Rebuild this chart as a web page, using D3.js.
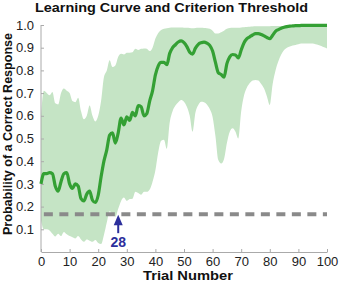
<!DOCTYPE html>
<html>
<head>
<meta charset="utf-8">
<script src="https://cdn.jsdelivr.net/npm/d3@7"></script>
<style>
  html, body { margin: 0; padding: 0; background: #fff; }
  svg { display: block; font-family: "Liberation Sans", Arial, sans-serif; }
</style>
</head>
<body>
<svg id="chart" width="340" height="283"></svg>
<script>
// ---- data ----
const title = "Learning Curve and Criterion Threshold";
const xLabel = "Trial Number";
const yLabel = "Probability of a Correct Response";
const xTicks = [0, 10, 20, 30, 40, 50, 60, 70, 80, 90, 100];
const yTicks = [0.1, 0.2, 0.3, 0.4, 0.5, 0.6, 0.7, 0.8, 0.9, 1.0];
const trials = d3.range(0, 101);
const median = [
  0.30, 0.345, 0.345, 0.35, 0.345, 0.29, 0.268, 0.31, 0.345, 0.35,
  0.30, 0.28, 0.30, 0.29, 0.235, 0.225, 0.255, 0.268, 0.228, 0.218,
  0.25, 0.33, 0.40, 0.45, 0.515, 0.525, 0.48, 0.525, 0.59, 0.56,
  0.595, 0.58, 0.615, 0.60, 0.645, 0.64, 0.60, 0.61, 0.665, 0.71,
  0.78, 0.82, 0.835, 0.835, 0.825, 0.875, 0.90, 0.913, 0.925, 0.93,
  0.922, 0.905, 0.88, 0.872, 0.898, 0.915, 0.922, 0.925, 0.92, 0.91,
  0.885, 0.835, 0.79, 0.782, 0.77, 0.83, 0.86, 0.87, 0.868, 0.855,
  0.89, 0.922, 0.94, 0.948, 0.956, 0.962, 0.962, 0.958, 0.952, 0.945,
  0.94, 0.955, 0.972, 0.98, 0.986, 0.99, 0.993, 0.995, 0.996, 0.997,
  0.997, 0.998, 0.998, 0.998, 0.998, 0.998, 0.998, 0.998, 0.998, 0.998,
  0.998
];
const upper = [
  0.60, 0.71, 0.70, 0.69, 0.705, 0.655, 0.65, 0.70, 0.72, 0.71,
  0.70, 0.665, 0.66, 0.68, 0.62, 0.585, 0.60, 0.645, 0.60, 0.575,
  0.60, 0.665, 0.77, 0.80, 0.845, 0.815, 0.822, 0.86, 0.873, 0.87,
  0.878, 0.878, 0.88, 0.895, 0.89, 0.895, 0.897, 0.895, 0.885, 0.90,
  0.94, 0.965, 0.978, 0.983, 0.986, 0.988, 0.989, 0.989, 0.989, 0.989,
  0.988, 0.988, 0.987, 0.986, 0.987, 0.988, 0.988, 0.987, 0.986, 0.984,
  0.975, 0.963, 0.963, 0.968, 0.975, 0.983, 0.987, 0.988, 0.988, 0.988,
  0.989, 0.99, 0.991, 0.992, 0.993, 0.994, 0.995, 0.995, 0.995, 0.995,
  0.995, 0.996, 0.996, 0.996, 0.996, 0.996, 0.996, 0.997, 0.997, 0.997,
  0.997, 0.997, 0.997, 0.997, 0.997, 0.997, 0.997, 0.997, 0.997, 0.997,
  0.997
];
const lower = [
  0.14, 0.10, 0.10, 0.095, 0.08, 0.068, 0.08, 0.07, 0.088, 0.078,
  0.07, 0.065, 0.06, 0.07, 0.055, 0.045, 0.055, 0.05, 0.045, 0.053,
  0.04, 0.035, 0.075, 0.13, 0.18, 0.168, 0.155, 0.19, 0.225, 0.24,
  0.225, 0.233, 0.235, 0.265, 0.26, 0.252, 0.265, 0.265, 0.275, 0.31,
  0.36, 0.44, 0.49, 0.495, 0.455, 0.57, 0.62, 0.645, 0.66, 0.67,
  0.662, 0.64, 0.60, 0.53, 0.615, 0.648, 0.662, 0.66, 0.65, 0.63,
  0.595, 0.51, 0.405, 0.39, 0.41, 0.48, 0.53, 0.545, 0.53, 0.50,
  0.62, 0.69, 0.725, 0.745, 0.755, 0.758, 0.755, 0.74, 0.72, 0.685,
  0.648, 0.74, 0.80, 0.84, 0.87, 0.89, 0.90, 0.905, 0.91, 0.912,
  0.915, 0.918, 0.918, 0.918, 0.918, 0.918, 0.915, 0.912, 0.908, 0.902,
  0.897
];
const criterion = 1 / 6;
const criterionIndex = 27;          // 0-based trial index of criterion
const criterionLabel = "28";

// ---- layout ----
const svg = d3.select("#chart");
const x = d3.scaleLinear().domain([0, 100]).range([41, 327]);
const y = d3.scaleLinear().domain([0, 1]).range([252, 25]);

const rows = trials.map((t, i) => ({ t, m: median[i], u: upper[i], l: lower[i] }));

// band
svg.append("path")
  .datum(rows)
  .attr("fill", "#c5e4c5")
  .attr("d", d3.area()
    .x(d => x(d.t)).y0(d => y(d.l)).y1(d => y(d.u))
    .curve(d3.curveMonotoneX));

// axes
const gx = svg.append("g").attr("transform", "translate(0,252)")
  .call(d3.axisBottom(x).tickValues(xTicks).tickSize(-3).tickSizeOuter(0).tickPadding(5));
const gy = svg.append("g").attr("transform", "translate(41,0)")
  .call(d3.axisLeft(y).tickValues(yTicks).tickFormat(d3.format(".1f")).tickSize(-3).tickSizeOuter(0).tickPadding(7));
[gx, gy].forEach(g => {
  g.select(".domain").attr("stroke", "#aaa");
  g.selectAll(".tick line").attr("stroke", "#aaa");
  g.selectAll(".tick text").attr("fill", "#222").style("font-size", "13px");
});
gy.select(".domain").attr("d", `M0,${y(0)}V${y(1)}`);

// criterion dashed line
svg.append("line")
  .attr("x1", x(1)).attr("x2", x(100))
  .attr("y1", y(criterion)).attr("y2", y(criterion))
  .attr("stroke", "#8a8a8a").attr("stroke-width", 4)
  .attr("stroke-dasharray", "9,6.5");

// median line
svg.append("path")
  .datum(rows)
  .attr("fill", "none")
  .attr("stroke", "#34a034")
  .attr("stroke-width", 3.2)
  .attr("stroke-linejoin", "round")
  .attr("d", d3.line().x(d => x(d.t)).y(d => y(d.m)).curve(d3.curveMonotoneX));

// arrow
const ax = x(criterionIndex);
const blue = "#2c2f9c";
svg.append("line")
  .attr("x1", ax).attr("x2", ax)
  .attr("y1", y(criterion) + 9).attr("y2", y(criterion) + 19)
  .attr("stroke", blue).attr("stroke-width", 2);
svg.append("path")
  .attr("fill", blue)
  .attr("d", `M${ax},${y(criterion) + 0.5}L${ax - 4.5},${y(criterion) + 11}L${ax + 4.5},${y(criterion) + 11}Z`);
svg.append("text")
  .attr("x", ax).attr("y", 246.5)
  .attr("text-anchor", "middle")
  .attr("fill", blue)
  .style("font-size", "14px").style("font-weight", "bold")
  .text(criterionLabel);

// title & labels
svg.append("text")
  .attr("x", 171.5).attr("y", 12)
  .attr("text-anchor", "middle")
  .attr("textLength", 273).attr("lengthAdjust", "spacingAndGlyphs")
  .style("font-size", "13px").style("font-weight", "bold").attr("fill", "#111")
  .text(title);
svg.append("text")
  .attr("x", 188).attr("y", 280)
  .attr("text-anchor", "middle")
  .attr("textLength", 90).attr("lengthAdjust", "spacingAndGlyphs")
  .style("font-size", "12.5px").style("font-weight", "bold").attr("fill", "#111")
  .text(xLabel);
svg.append("text")
  .attr("transform", "translate(11.5,134) rotate(-90)")
  .attr("text-anchor", "middle")
  .attr("textLength", 202).attr("lengthAdjust", "spacingAndGlyphs")
  .style("font-size", "12.5px").style("font-weight", "bold").attr("fill", "#111")
  .text(yLabel);
</script>
</body>
</html>
